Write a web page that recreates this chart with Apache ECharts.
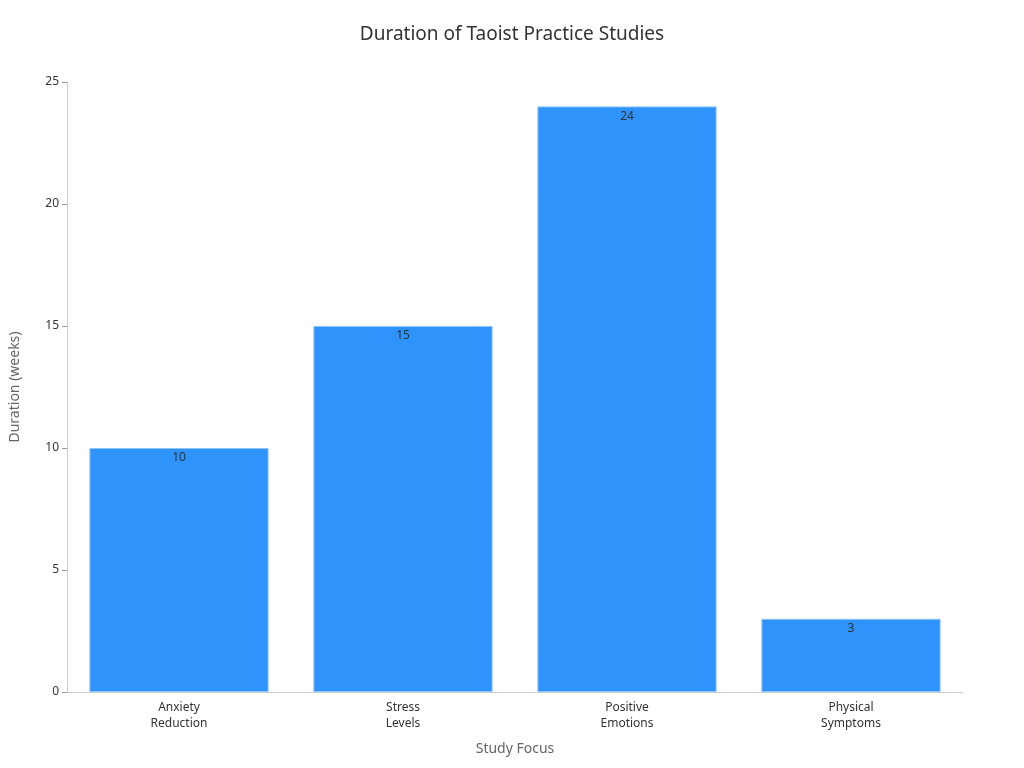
<!DOCTYPE html>
<html><head><meta charset="utf-8">
<script src="https://cdn.jsdelivr.net/npm/echarts@6/dist/echarts.min.js"></script>
<style>html,body{margin:0;padding:0}#c{width:1024px;height:768px}</style>
</head><body><div id="c"></div>
<script>
const categories = ["Anxiety\nReduction", "Stress\nLevels", "Positive\nEmotions", "Physical\nSymptoms"];
const durations = [10, 15, 24, 3];
const chart = echarts.init(document.getElementById('c'));
chart.setOption({
  animation: false,
  textStyle: { fontFamily: 'Noto Sans' },
  title: { text: 'Duration of Taoist Practice Studies', left: 'center', top: 20,
    textStyle: { fontSize: 19, fontWeight: 'normal', color: '#333' } },
  grid: { left: 60, right: 61, top: 82, bottom: 76 },
  xAxis: { type: 'category', data: categories, name: 'Study Focus', nameLocation: 'middle', nameGap: 50,
    nameTextStyle: { color: '#666', fontSize: 14 },
    axisLine: { lineStyle: { color: '#ccc' } }, axisTick: { show: false },
    axisLabel: { color: '#333', fontSize: 12, lineHeight: 16 } },
  yAxis: { type: 'value', min: 0, max: 25, interval: 5, name: 'Duration (weeks)', nameLocation: 'middle', nameGap: 45,
    nameTextStyle: { color: '#666', fontSize: 14 },
    axisLine: { show: true, lineStyle: { color: '#ccc' } }, axisTick: { show: true, lineStyle: { color: '#999' } },
    axisLabel: { color: '#333', fontSize: 12 }, splitLine: { show: false } },
  series: [{ type: 'bar', data: durations, barCategoryGap: '20%',
    itemStyle: { color: '#2E93FA', borderColor: '#8cc4fb', borderWidth: 1 },
    label: { show: true, position: 'insideTop', color: '#333', fontSize: 12, distance: 4 } }]
});
</script></body></html>
